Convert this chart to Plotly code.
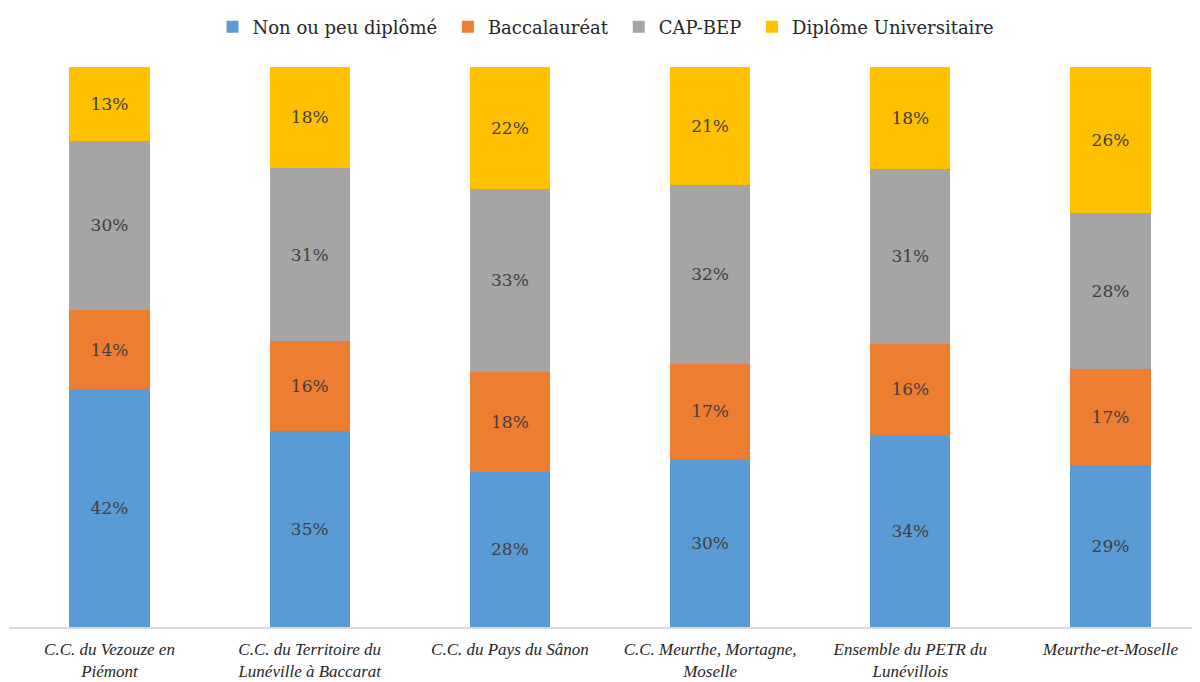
import plotly.graph_objects as go

categories = [
    "C.C. du Vezouze en<br>Piémont",
    "C.C. du Territoire du<br>Lunéville à Baccarat",
    "C.C. du Pays du Sânon",
    "C.C. Meurthe, Mortagne,<br>Moselle",
    "Ensemble du PETR du<br>Lunévillois",
    "Meurthe-et-Moselle",
]
series_names = ["Non ou peu diplômé", "Baccalauréat", "CAP-BEP", "Diplôme Universitaire"]
non_ou_peu = [42, 35, 28, 30, 34, 29]
baccalaureat = [14, 16, 18, 17, 16, 17]
cap_bep = [30, 31, 33, 32, 31, 28]
diplome_univ = [13, 18, 22, 21, 18, 26]
colors = ["#5B9BD5", "#ED7D31", "#A5A5A5", "#FFC000"]

FONT = "DejaVu Serif"
TICKFONT = "Liberation Serif"
fig = go.Figure()
for name, vals, col in zip(series_names, [non_ou_peu, baccalaureat, cap_bep, diplome_univ], colors):
    fig.add_trace(go.Bar(
        x=categories, y=vals, name=name + "\u00a0", marker=dict(color=col, line=dict(width=0)),
        text=[f"{v}%" for v in vals], texttemplate="%{text}", textposition="inside",
        insidetextanchor="middle", textangle=0, constraintext="none",
        textfont=dict(family=FONT, size=17, color="#404040"),
        hoverinfo="skip", width=0.4,
    ))

fig.update_layout(
    barmode="stack", barnorm="percent",
    width=1200, height=682,
    margin=dict(l=1, r=0, t=59, b=63, autoexpand=False),
    paper_bgcolor="white", plot_bgcolor="white",
    font=dict(family=FONT, color="#262626"),
    showlegend=True,
    legend=dict(orientation="h", x=0.5, xanchor="center", y=1.0714, yanchor="middle",
                font=dict(family=FONT, size=18, color="#262626"),
                traceorder="normal", itemclick=False, itemwidth=30),
    xaxis=dict(type="category", range=[-0.502, 5.487], showgrid=False, automargin=False,
               showline=True, linecolor="#D9D9D9", linewidth=1.5, ticks="",
               ticklabelstandoff=6,
               tickfont=dict(family=TICKFONT, size=17, color="#262626", style="italic")),
    yaxis=dict(range=[0, 100], visible=False, showgrid=False, zeroline=False, automargin=False),
)
fig.write_html("out.html")
